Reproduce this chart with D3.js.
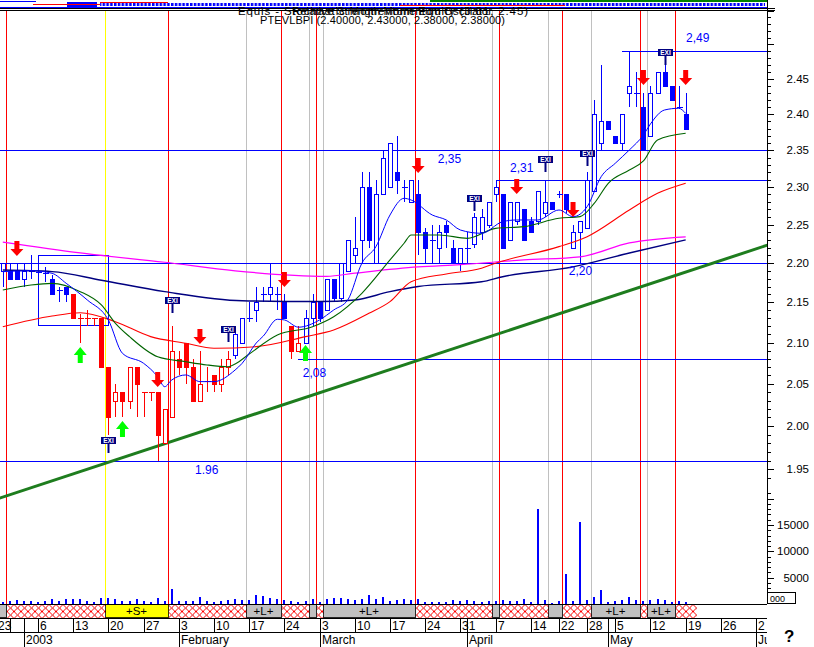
<!DOCTYPE html>
<html><head><meta charset="utf-8">
<script src="https://cdn.jsdelivr.net/npm/d3@7"></script>
<style>
html,body{margin:0;padding:0;background:#fff;}
svg{display:block;font-family:"Liberation Sans",Arial,sans-serif;}
</style></head><body>
<svg id="c" width="814" height="647"></svg>
<script>
// ---------- DATA (trading-day index 0 = 6 Jan 2003) ----------
const firstDay = -5;
const open  = [2.19,2.19,2.19,2.18,2.19, 2.188,2.187,2.18,2.165,2.17, 2.16,2.13,2.13,2.13,2.13, 2.07,2.03,2.04,2.03,2.07,
  2.04,2.04,2.04,1.98,2.01, 2.08,2.10,2.07,2.03,2.053, 2.06,2.05,2.07,2.085,2.10, 2.13,2.14,2.16,2.16,2.16,
  2.15,2.12,2.09,2.10,2.13, 2.15,2.14,2.18,2.155,2.19, 2.21,2.23,2.30,2.20,2.29, 2.30,2.32,2.30,2.28,2.29,
  2.24,2.23,2.22,2.25,2.22, 2.20,2.22,2.225,2.24,2.25, 2.29,2.29,2.23,2.255,2.27, 2.255,2.255,2.265,2.28,2.29,
  2.29,2.22,2.24,2.245,2.295, 2.36,2.39,2.37,2.36,2.43, 2.43,2.41,2.37,2.43,2.46, 2.44,2.41,2.40];
const high  = [2.20,2.20,2.20,2.20,2.21, 2.19,2.195,2.185,2.17,2.17, 2.16,2.135,2.14,2.13,2.13, 2.07,2.05,2.04,2.07,2.07,
  2.04,2.04,2.04,2.02,2.12, 2.09,2.10,2.08,2.09,2.07, 2.06,2.08,2.09,2.12,2.13, 2.15,2.17,2.17,2.20,2.17,
  2.16,2.12,2.12,2.14,2.16, 2.15,2.18,2.18,2.20,2.23, 2.26,2.32,2.32,2.31,2.35, 2.36,2.37,2.31,2.31,2.31,
  2.245,2.25,2.25,2.255,2.23, 2.22,2.24,2.265,2.27,2.28, 2.31,2.29,2.28,2.28,2.27, 2.26,2.295,2.31,2.28,2.295,
  2.29,2.25,2.255,2.32,2.42, 2.47,2.39,2.37,2.40,2.49, 2.46,2.43,2.44,2.46,2.47, 2.44,2.44,2.43];
const low   = [2.17,2.18,2.18,2.17,2.18, 2.18,2.176,2.16,2.15,2.15, 2.13,2.10,2.12,2.12,2.07, 1.99,2.01,2.01,2.02,2.01,
  2.01,2.03,1.96,1.98,2.01, 2.06,2.05,2.03,2.03,2.04, 2.04,2.04,2.06,2.08,2.10, 2.125,2.125,2.15,2.15,2.14,
  2.13,2.08,2.09,2.10,2.12, 2.125,2.14,2.15,2.15,2.19, 2.20,2.20,2.22,2.20,2.29, 2.30,2.29,2.28,2.28,2.21,
  2.20,2.20,2.20,2.22,2.20, 2.19,2.20,2.22,2.23,2.245, 2.28,2.22,2.23,2.25,2.23, 2.24,2.25,2.26,2.27,2.285,
  2.265,2.22,2.20,2.245,2.295, 2.35,2.38,2.36,2.35,2.41, 2.41,2.35,2.37,2.43,2.44, 2.42,2.41,2.38];
const close = [2.20,2.18,2.18,2.19,2.19, 2.188,2.187,2.16,2.165,2.16, 2.13,2.13,2.13,2.13,2.07, 2.01,2.04,2.03,2.07,2.05,
  2.04,2.04,1.99,2.02,2.09, 2.07,2.07,2.03,2.05,2.053, 2.05,2.07,2.08,2.11,2.13, 2.13,2.15,2.16,2.17,2.16,
  2.13,2.09,2.10,2.13,2.15, 2.13,2.18,2.155,2.20,2.23, 2.22,2.30,2.23,2.29,2.34, 2.36,2.31,2.30,2.31,2.24,
  2.22,2.23,2.24,2.24,2.20, 2.22,2.22,2.26,2.26,2.28, 2.30,2.22,2.28,2.28,2.23, 2.24,2.295,2.28,2.27,2.29,
  2.27,2.24,2.255,2.31,2.40, 2.39,2.38,2.36,2.40,2.44, 2.43,2.35,2.43,2.46,2.44, 2.42,2.41,2.38];
const volume = [380,510,760,510,510, 380,510,950,510,950, 950,950,510,380,1140, 1140,950,510,630,950,
  510,380,1140,630,2850, 630,630,510,1330,510, 380,630,760,890,760, 760,1710,1520,1140,950,
  760,630,380,630,950, 380,1010,1140,1140,1010, 820,1010,1770,1010,1390, 630,820,1010,820,1010,
  440,440,440,440,820, 630,820,630,440,630, 630,820,630,630,1010, 440,18120,820,250,630,
  5760,630,15650,820,1390, 2720,440,630,820,1390, 820,630,820,1010,820, 440,630,440];
const redCandleRanges = [[5,27],[36,37]];

// moving averages (read at sampled days)
const blueMaDays = [-5,-1,2,4,7,10,12,15,17,18,19,21,23,25,28,29,31,32,34,35,37,40,42,44,46,48,50,52,53,56,58,60,63,66,68,71,74,76,78,80,82,84,86,87,89,91,92];
const blueMaVals = [2.1889,2.1902,2.1868,2.1741,2.153,2.1279,2.0868,2.0747,2.0585,2.0465,2.0546,2.0606,2.0526,2.0526,2.0666,2.0747,2.0995,2.108,2.1288,2.128,
  2.119,2.128,2.1404,2.153,2.1997,2.2212,2.2627,2.2849,2.2826,2.2627,2.2561,2.2429,2.2386,2.2539,2.2561,2.2561,2.2693,2.2605,2.2737,2.314,
  2.3322,2.3504,2.3711,2.3865,2.406,2.4084,2.4013];
const greenMaDays = [-5,-1,2,6,9,11,13,17,21,24,27,28,30,34,39,42,46,50,52,53,57,61,65,69,74,77,79,81,84,86,88,92];
const greenMaVals = [2.1656,2.1719,2.174,2.1635,2.1467,2.1238,2.1073,2.0827,2.0766,2.0727,2.0706,2.0739,2.086,2.1093,2.1196,2.132,2.1614,2.204,2.2256,2.2364,
  2.2364,2.232,2.2451,2.2473,2.2583,2.2605,2.278,2.305,2.323,2.3353,2.3642,2.3734];
const redMaDays = [-5,2,6,11,16,21,25,31,38,42,47,50,53,58,63,65,74,78,84,88,92];
const redMaVals = [2.1196,2.1329,2.137,2.1258,2.1073,2.0992,2.093,2.095,2.1073,2.1155,2.1362,2.1509,2.1761,2.186,2.1933,2.1998,2.2212,2.2342,2.2693,2.2915,2.305];
const navyMaDays = [-5,2,9,18,29,40,45,50,54,63,66,76,84,92];
const navyMaVals = [2.191,2.189,2.178,2.1635,2.152,2.151,2.153,2.1635,2.170,2.176,2.1825,2.195,2.213,2.230];
const magentaMaDays = [-5,6,18,28,41,45,54,60,69,77,84,92];
const magentaMaVals = [2.227,2.213,2.201,2.190,2.183,2.187,2.195,2.198,2.204,2.208,2.226,2.234];

// annotations
const trendDays = [-5,103], trendPrices = [1.9186,2.2213];
const hLinePrices = [2.35,2.20,1.96,2.31,2.49,2.08];
const hLineFrom   = [null,null,null,65,83,37];
const lvlLabels = ["2,35","2,31","2,49","2,20","2,08","1.96"];
const lvlLabelDays = [56.8,67.05,92.05,75.4,37.6,22.3];
const lvlLabelPrices = [2.3325,2.3203,2.5036,2.1847,2.0582,1.9446];
const boxDays = [0,10], boxPrices = [2.2104,2.1217];
const redLineDays = [-4,19,35,40,54,66,75,86,91];
const grayLineDays = [30,39,41,65,73,79,87];
const yellowLineDays = [10];
const downArrowDays = [-3,17,23,35,54,68,76,86,92];
const downArrowPrices = [2.2286,2.0642,2.1167,2.1885,2.3394,2.3108,2.2799,2.463,2.463];
const upArrowDays = [6,12,38];
const upArrowPrices = [2.0946,2.0059,2.0970];
const exiDays = [10,19,27,62,72,78,89];
const exiPrices = [1.9872,2.1567,2.1205,2.2893,2.3422,2.3504,2.4937];
const segStart = [-5.5,-4,10,19,30,35,39,40,41,54,65,66,73,75,79,86,87,91];
const segEnd   = [-4,10,19,30,35,39,40,41,54,65,66,73,75,79,86,87,91,94];
const segType  = ['g','h','y','h','g','h','g','h','g','h','g','h','g','h','g','h','g','h'];
const segLabel = ['','','+S+','','+L+','','','','+L+','','','','','','+L+','','+L+',''];
const dayTickDays = [-6,-4,0,5,10,15,20,25,30,35,40,45,50,55,60,65,70,74,78,82,87,92,97,102];
const dayTickLabels = ["23","","6","13","20","27","3","10","17","24","3","10","17","24","31","7","14","22","28","5","12","19","26","2"];
const monthTickDays = [-2,20,40,61,81,102];
const monthLabels = ["2003","February","March","April","May","June"];
const priceTicks = [1.95,2.00,2.05,2.10,2.15,2.20,2.25,2.30,2.35,2.40,2.45];
const volumeTicks = [5000,10000,15000];

// ---------- CHART ----------
const svg = d3.select('#c');
const AX = 767;
const x = d3.scaleLinear().domain([0,92]).range([38,38+92*7.04]);
const y = d3.scaleLog().domain([1.95,2.45]).range([469.3,79]);
const yv = d3.scaleLinear().domain([0,15000]).range([604,525]);
const xe = d => x(d-0.5);

const defs = svg.append('defs');
defs.append('clipPath').attr('id','pane').append('rect').attr('x',0).attr('y',10).attr('width',AX).attr('height',594);
defs.append('clipPath').attr('id','full').append('rect').attr('x',0).attr('y',0).attr('width',AX).attr('height',647);
const hp = defs.append('pattern').attr('id','hatch').attr('patternUnits','userSpaceOnUse')
  .attr('width',7).attr('height',7).attr('x',0).attr('y',604.5);
hp.append('rect').attr('width',7).attr('height',7).attr('fill','#fff');
hp.append('path').attr('d','M0,0L7,7M7,0L0,7').attr('stroke','#ff0000').attr('stroke-width',1);
hp.append('rect').attr('x',3).attr('y',3).attr('width',1.2).attr('height',1.2).attr('fill','#d00000');
const sq = defs.append('pattern').attr('id','sq').attr('patternUnits','userSpaceOnUse')
  .attr('width',3.8).attr('height',9).attr('x',0).attr('y',0);
sq.append('rect').attr('x',0).attr('y',3).attr('width',2.5).attr('height',3).attr('fill','#0000ff');

const cands = open.map((o,k)=>({d:firstDay+k,o,h:high[k],l:low[k],c:close[k],v:volume[k]}));
const isRed = d => redCandleRanges.some(([a,b])=>d>=a&&d<=b);

// header pane
const hd = svg.append('g');
hd.append('rect').attr('x',100).attr('y',0).attr('width',665).attr('height',8).attr('fill','url(#sq)');
hd.append('rect').attr('x',67).attr('y',2).attr('width',30).attr('height',6).attr('fill','#0000ff');
hd.append('line').attr('x1',430).attr('x2',AX).attr('y1',1).attr('y2',1).attr('stroke','#008000').attr('stroke-width',2);
hd.append('line').attr('x1',0).attr('x2',36).attr('y1',1.5).attr('y2',1.5).attr('stroke','#0000ff');
hd.append('line').attr('x1',33).attr('x2',100).attr('y1',4.5).attr('y2',4.5).attr('stroke','#ff0000');
hd.append('line').attr('x1',100).attr('x2',168).attr('y1',2.5).attr('y2',2.5).attr('stroke','#ff0000');
hd.append('line').attr('x1',400).attr('x2',565).attr('y1',5.5).attr('y2',5.5).attr('stroke','#ff0000');
hd.append('line').attr('x1',0).attr('x2',AX).attr('y1',7.5).attr('y2',7.5).attr('stroke','#0000ff');
hd.append('line').attr('x1',0).attr('x2',AX+8).attr('y1',8.5).attr('y2',8.5).attr('stroke','#000');
hd.append('line').attr('x1',0).attr('x2',AX+8).attr('y1',10.5).attr('y2',10.5).attr('stroke','#000');

// vertical signal lines
const vg = svg.append('g').attr('shape-rendering','crispEdges');
const vlines = [...grayLineDays.map(d=>[d,'#c0c0c0']),...yellowLineDays.map(d=>[d,'#ffff00']),...redLineDays.map(d=>[d,'#ff0000'])];
vg.selectAll('line').data(vlines).join('line')
  .attr('x1',d=>Math.round(xe(d[0]))+0.5).attr('x2',d=>Math.round(xe(d[0]))+0.5)
  .attr('y1',11).attr('y2',604).attr('stroke',d=>d[1]);

const pane = svg.append('g').attr('clip-path','url(#pane)');
// horizontal level lines
pane.selectAll('line.lv').data(hLinePrices).join('line').attr('class','lv')
  .attr('x1',(p,i)=>hLineFrom[i]===null?0:x(hLineFrom[i])).attr('x2',AX)
  .attr('y1',p=>Math.round(y(p))+0.5).attr('y2',p=>Math.round(y(p))+0.5)
  .attr('stroke','#0000ff').attr('shape-rendering','crispEdges');
// box
pane.append('rect').attr('x',x(boxDays[0])+0.5).attr('y',Math.round(y(boxPrices[0]))+0.5)
  .attr('width',x(boxDays[1])-x(boxDays[0])).attr('height',y(boxPrices[1])-y(boxPrices[0]))
  .attr('fill','none').attr('stroke','#0000ff').attr('shape-rendering','crispEdges');
// trend line
const lnA=Math.log(trendPrices[0]), lnB=Math.log(trendPrices[1]);
const tp = d => Math.exp(lnA+(d-trendDays[0])/(trendDays[1]-trendDays[0])*(lnB-lnA));
pane.append('line').attr('x1',x(-6)).attr('y1',y(tp(-6))).attr('x2',x(106)).attr('y2',y(tp(106)))
  .attr('stroke','#1e7d1e').attr('stroke-width',3);

// volume bars
svg.append('g').attr('shape-rendering','crispEdges').selectAll('rect').data(cands).join('rect')
  .attr('x',d=>Math.round(x(d.d))-1).attr('width',2)
  .attr('y',d=>yv(d.v)).attr('height',d=>604-yv(d.v)).attr('fill','#0000ff');

// candles
const cg = pane.append('g').attr('shape-rendering','crispEdges');
cands.forEach(c=>{
  const col = isRed(c.d)?'#ff0000':'#0000ff';
  const cx = Math.round(x(c.d))+0.5;
  cg.append('line').attr('x1',cx).attr('x2',cx).attr('y1',y(c.h)).attr('y2',y(c.l)).attr('stroke',col);
  const yo=y(c.o), yc=y(c.c);
  if (Math.abs(yo-yc)<1.5){
    const yy=Math.round((yo+yc)/2)+0.5;
    cg.append('line').attr('x1',cx-3).attr('x2',cx+3).attr('y1',yy).attr('y2',yy).attr('stroke',col);
  } else {
    const top=Math.round(Math.min(yo,yc))+0.5, bot=Math.round(Math.max(yo,yc))+0.5;
    cg.append('rect').attr('x',cx-2).attr('width',4).attr('y',top).attr('height',bot-top)
      .attr('fill',c.c>c.o?'#fff':col).attr('stroke',col);
  }
});

// moving averages
const ma = (days,vals,col,w)=>{
  pane.append('path').datum(days.map((d,i)=>[d,vals[i]]))
    .attr('d',d3.line().x(d=>x(d[0])).y(d=>y(d[1])).curve(d3.curveMonotoneX))
    .attr('fill','none').attr('stroke',col).attr('stroke-width',w);
};
ma(magentaMaDays,magentaMaVals,'#ff00ff',1.2);
ma(navyMaDays,navyMaVals,'#000080',1.4);
ma(redMaDays,redMaVals,'#ff0000',1.1);
ma(greenMaDays,greenMaVals,'#006400',1.1);
ma(blueMaDays,blueMaVals,'#0000ff',1);

// arrows
const ag = pane.append('g');
downArrowDays.forEach((d,i)=>{
  const cx=x(d), t=y(downArrowPrices[i]);
  ag.append('path').attr('d',`M${cx-2.5},${t}H${cx+2.5}V${t+8}H${cx+6.5}L${cx},${t+15}L${cx-6.5},${t+8}H${cx-2.5}Z`).attr('fill','#ff0000');
});
upArrowDays.forEach((d,i)=>{
  const cx=x(d), t=y(upArrowPrices[i]);
  ag.append('path').attr('d',`M${cx},${t}L${cx+6.5},${t+8}H${cx+2.5}V${t+16}H${cx-2.5}V${t+8}H${cx-6.5}Z`).attr('fill','#00ff00');
});
// EXI markers
exiDays.forEach((d,i)=>{
  const cx=Math.round(x(d)), t=Math.round(y(exiPrices[i]));
  ag.append('line').attr('x1',cx+0.5).attr('x2',cx+0.5).attr('y1',t+6).attr('y2',t+16).attr('stroke','#000080').attr('stroke-width',2);
  ag.append('rect').attr('x',cx-6.5).attr('y',t+0.5).attr('width',14).attr('height',6).attr('fill','#000080').attr('stroke','#000080').attr('shape-rendering','crispEdges');
  ag.append('text').attr('x',cx+0.5).attr('y',t+6).attr('text-anchor','middle').attr('font-size',6.5).attr('font-weight','bold').attr('fill','#fff').text('EXI');
});
// level labels
pane.selectAll('text.lvl').data(lvlLabels).join('text').attr('class','lvl')
  .attr('x',(t,i)=>x(lvlLabelDays[i])).attr('y',(t,i)=>y(lvlLabelPrices[i]))
  .attr('font-size',12).attr('fill','#0000ff').text(t=>t);

// bottom strip
const sg = svg.append('g').attr('clip-path','url(#full)');
segStart.forEach((s,i)=>{
  const x0=Math.round(xe(s)), x1=Math.round(xe(segEnd[i]));
  const fill = segType[i]==='h'?'url(#hatch)':(segType[i]==='y'?'#ffff00':'#c0c0c0');
  sg.append('rect').attr('x',x0+0.5).attr('y',604.5).attr('width',x1-x0).attr('height',13)
    .attr('fill',fill).attr('stroke',segType[i]==='h'?'none':'#000').attr('stroke-width',0.8).attr('shape-rendering','crispEdges');
  if (segLabel[i]) sg.append('text').attr('x',(x0+x1)/2).attr('y',615).attr('text-anchor','middle')
    .attr('font-size',11.5).attr('fill','#000').text(segLabel[i]);
});
const lg = svg.append('g').attr('shape-rendering','crispEdges');
[604.5,618.5].forEach(yy=>lg.append('line').attr('x1',0).attr('x2',AX).attr('y1',yy).attr('y2',yy).attr('stroke','#000'));
lg.append('line').attr('x1',0).attr('x2',AX).attr('y1',632.5).attr('y2',632.5).attr('stroke','#000');

// date axis
const dg = svg.append('g').attr('clip-path','url(#full)');
dayTickDays.forEach((d,i)=>{
  const tx=Math.round(x(d))+0.5;
  dg.append('line').attr('x1',tx).attr('x2',tx).attr('y1',618).attr('y2',632).attr('stroke','#000').attr('shape-rendering','crispEdges');
  if (dayTickLabels[i]) dg.append('text').attr('x',tx+1.5).attr('y',630).attr('font-size',12).attr('fill','#000').text(dayTickLabels[i]);
});
monthTickDays.forEach((d,i)=>{
  const tx=Math.round(x(d))+0.5;
  dg.append('line').attr('x1',tx).attr('x2',tx).attr('y1',618).attr('y2',647).attr('stroke','#000').attr('shape-rendering','crispEdges');
  dg.append('text').attr('x',tx+1.5).attr('y',644).attr('font-size',12).attr('fill','#000').text(monthLabels[i]);
});

// right axis
const rg = svg.append('g').attr('shape-rendering','crispEdges');
rg.append('line').attr('x1',AX+0.5).attr('x2',AX+0.5).attr('y1',0).attr('y2',604).attr('stroke','#000');
const minorP = d3.range(194,256).map(v=>v/100);
minorP.forEach(v=>{
  const major = Math.abs(v*100 % 5)<1e-6 || Math.abs(v*100%5-5)<1e-6;
  const yy=Math.round(y(v))+0.5;
  if (yy<10) return;
  rg.append('line').attr('x1',AX).attr('x2',AX+(major?7:4)).attr('y1',yy).attr('y2',yy).attr('stroke','#000');
});
svg.selectAll('text.pt').data(priceTicks).join('text').attr('class','pt')
  .attr('x',809).attr('y',v=>y(v)+4).attr('text-anchor','end').attr('font-size',11.5).attr('fill','#000')
  .text(v=>v.toFixed(2));
d3.range(1000,22000,1000).forEach(v=>{
  const yy=Math.round(yv(v))+0.5;
  rg.append('line').attr('x1',AX).attr('x2',AX+(v%5000===0?7:4)).attr('y1',yy).attr('y2',yy).attr('stroke','#000');
});
svg.selectAll('text.vt').data(volumeTicks).join('text').attr('class','vt')
  .attr('x',809).attr('y',v=>yv(v)+4).attr('text-anchor','end').attr('font-size',11.5).attr('fill','#000')
  .text(v=>v);
rg.append('rect').attr('x',AX+0.5).attr('y',592.5).attr('width',28).attr('height',11).attr('fill','#fff').attr('stroke','#000');
svg.append('text').attr('x',AX+3).attr('y',602).attr('font-size',9).attr('fill','#000').text('000');
svg.append('text').attr('x',784).attr('y',642).attr('font-size',17).attr('font-weight','bold').attr('fill','#000').text('?');

// header titles (overlapping, as in the source)
svg.append('text').attr('x',238).attr('y',15).attr('font-size',11.5).attr('fill','#000')
  .attr('textLength',290).attr('lengthAdjust','spacing').text('Equis - Stochastic Momentum Equity (3.81, 2.45)');
svg.append('text').attr('x',292).attr('y',15).attr('font-size',11.5).attr('fill','#000').text('Relative Strength Momentum Oscillator');
svg.append('text').attr('x',260).attr('y',24).attr('font-size',11).attr('fill','#000')
  .attr('textLength',245).attr('lengthAdjust','spacing').text('PTEVLBPI (2.40000, 2.43000, 2.38000, 2.38000)');
</script>
</body></html>
